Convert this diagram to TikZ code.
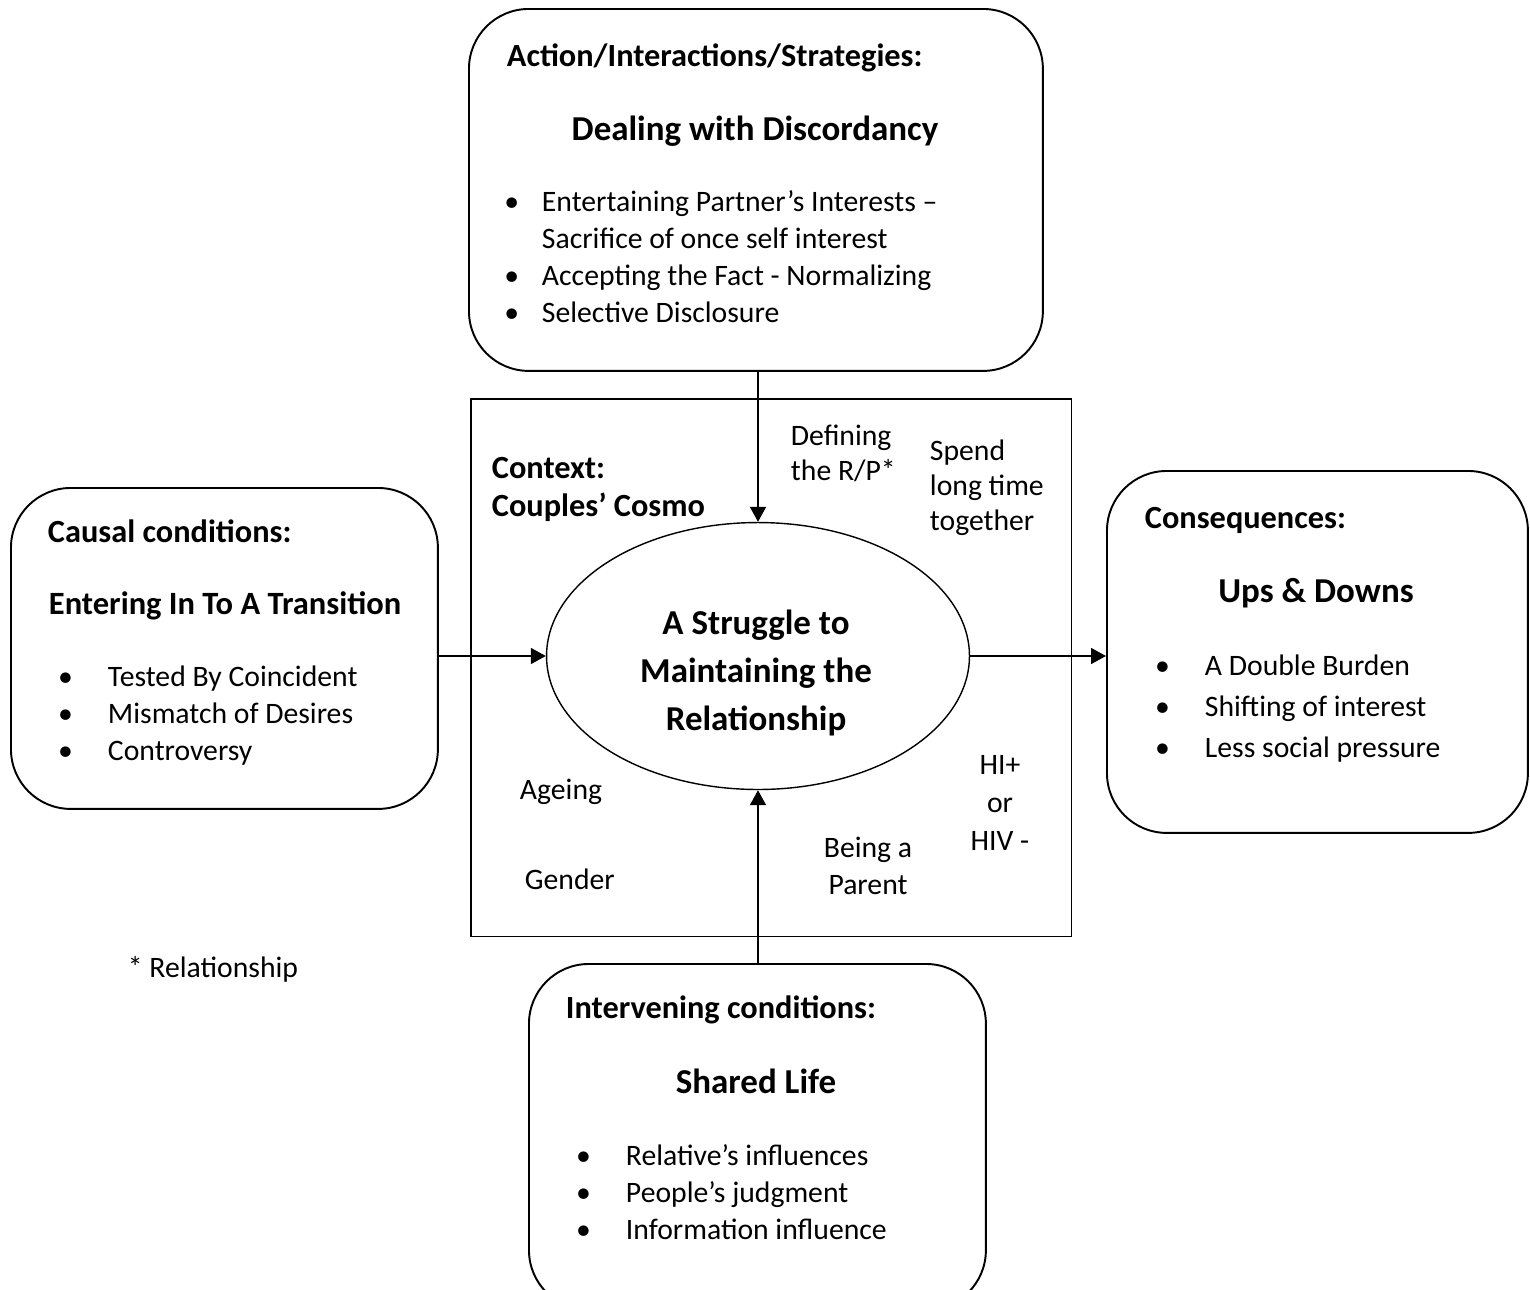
\documentclass[tikz,border=0pt]{standalone}
\usepackage{fontspec}
\setmainfont{Carlito}
\usetikzlibrary{arrows.meta, shapes.geometric}

\newcommand{\itemdot}[1]{\llap{\textbullet\hspace{#1}}}
\newcommand{\bodyfont}[1]{\fontsize{16.9}{#1}\selectfont}

\begin{document}
\begin{tikzpicture}[x=0.02cm, y=-0.02cm, >={Triangle[length=8.5pt, width=9pt]}, line width=1.1pt]
  \tikzstyle{panel} = [draw, rectangle, rounded corners=34pt, inner sep=0pt, anchor=north west]
  \tikzstyle{txt} = [inner sep=0pt, anchor=base west, align=left, font=\bodyfont{21pt}]
  \tikzstyle{ctxt} = [txt, anchor=base, align=center]
  \tikzstyle{head} = [txt, font=\bfseries\fontsize{18.4}{21.5}\selectfont]
  \tikzstyle{title} = [ctxt, font=\bfseries\fontsize{19.9}{27}\selectfont]
  \useasboundingbox (0,0) rectangle (1530,1289);

  % boxes
  \node [panel, minimum width=11.48cm, minimum height=7.24cm] (action) at (468,8) {};
  \node [draw, rectangle, line width=0.9pt, inner sep=0pt, anchor=north west,
         minimum width=12.02cm, minimum height=10.76cm] (context) at (470,398) {};
  \node [draw, ellipse, line width=0.8pt, inner sep=0pt, minimum width=8.46cm,
         minimum height=5.34cm] (core) at (758,656) {};
  \node [panel, minimum width=8.54cm, minimum height=6.42cm] (causal) at (10,487) {};
  \node [panel, minimum width=8.42cm, minimum height=7.24cm] (result) at (1106,470) {};
  \node [panel, minimum width=9.14cm, minimum height=6.92cm] (shared) at (528,963) {};

  % action box (multi-line nodes sit on their last baseline)
  \node [head] (actionhead) at (506,66) {Action/Interactions/Strategies:};
  \node [title] (actiontitle) at (755,140) {Dealing with Discordancy};
  \node [txt] (actionlist) at (541,322) {\itemdot{13pt}Entertaining Partner’s Interests –\\
    Sacrifice of once self interest\\
    \itemdot{13pt}Accepting the Fact - Normalizing\\
    \itemdot{13pt}Selective Disclosure};

  % context
  \node [head] (contexthead) at (491,516) {Context:\\Couples’ Cosmo};
  \node [txt, font=\bodyfont{19.8pt}] (defining) at (790,480) {Defining\\the R/P*};
  \node [txt, font=\bodyfont{19.8pt}] (spend) at (929,530) {Spend\\long time\\together};
  \node [txt] (ageing) at (519,799) {Ageing};
  \node [txt] (gender) at (524,889) {Gender};
  \node [ctxt] (parent) at (868,894) {Being a\\Parent};
  \node [ctxt, font=\bodyfont{21.5pt}] (hiv) at (1000,850) {HI+\\or\\HIV -};
  \node [title, font=\bfseries\fontsize{19.9}{27.2}\selectfont] (coretext) at (756,730)
    {A Struggle to\\Maintaining the\\Relationship};

  % causal box
  \node [head] (causalhead) at (47,542) {Causal conditions:};
  \node [title, anchor=base west, font=\bfseries\fontsize{18.5}{24}\selectfont] (causaltitle) at (48,614) {Entering In To A Transition};
  \node [txt] (causallist) at (107,760) {\itemdot{20pt}Tested By Coincident\\
    \itemdot{20pt}Mismatch of Desires\\
    \itemdot{20pt}Controversy};

  % consequences box
  \node [head] (resulthead) at (1144,528) {Consequences:};
  \node [title] (resulttitle) at (1316,602) {Ups \& Downs};
  \node [txt, font=\bodyfont{23.2pt}] (resultlist) at (1204,757) {\itemdot{20pt}A Double Burden\\
    \itemdot{20pt}Shifting of interest\\
    \itemdot{20pt}Less social pressure};

  % intervening box
  \node [head] (sharedhead) at (565,1018) {Intervening conditions:};
  \node [title] (sharedtitle) at (756,1093) {Shared Life};
  \node [txt] (sharedlist) at (625,1239) {\itemdot{20pt}Relative’s influences\\
    \itemdot{20pt}People’s judgment\\
    \itemdot{20pt}Information influence};

  \node [txt] (note) at (127,977) {* Relationship};

  % connectors
  \draw [->] (action.south -| core.north) -- (core.north);
  \draw [->] (shared.north -| core.south) -- (core.south);
  \draw [->] (causal.east |- core.west) -- (core.west);
  \draw [->] (core.east) -- (core.east -| result.west);
\end{tikzpicture}
\end{document}
